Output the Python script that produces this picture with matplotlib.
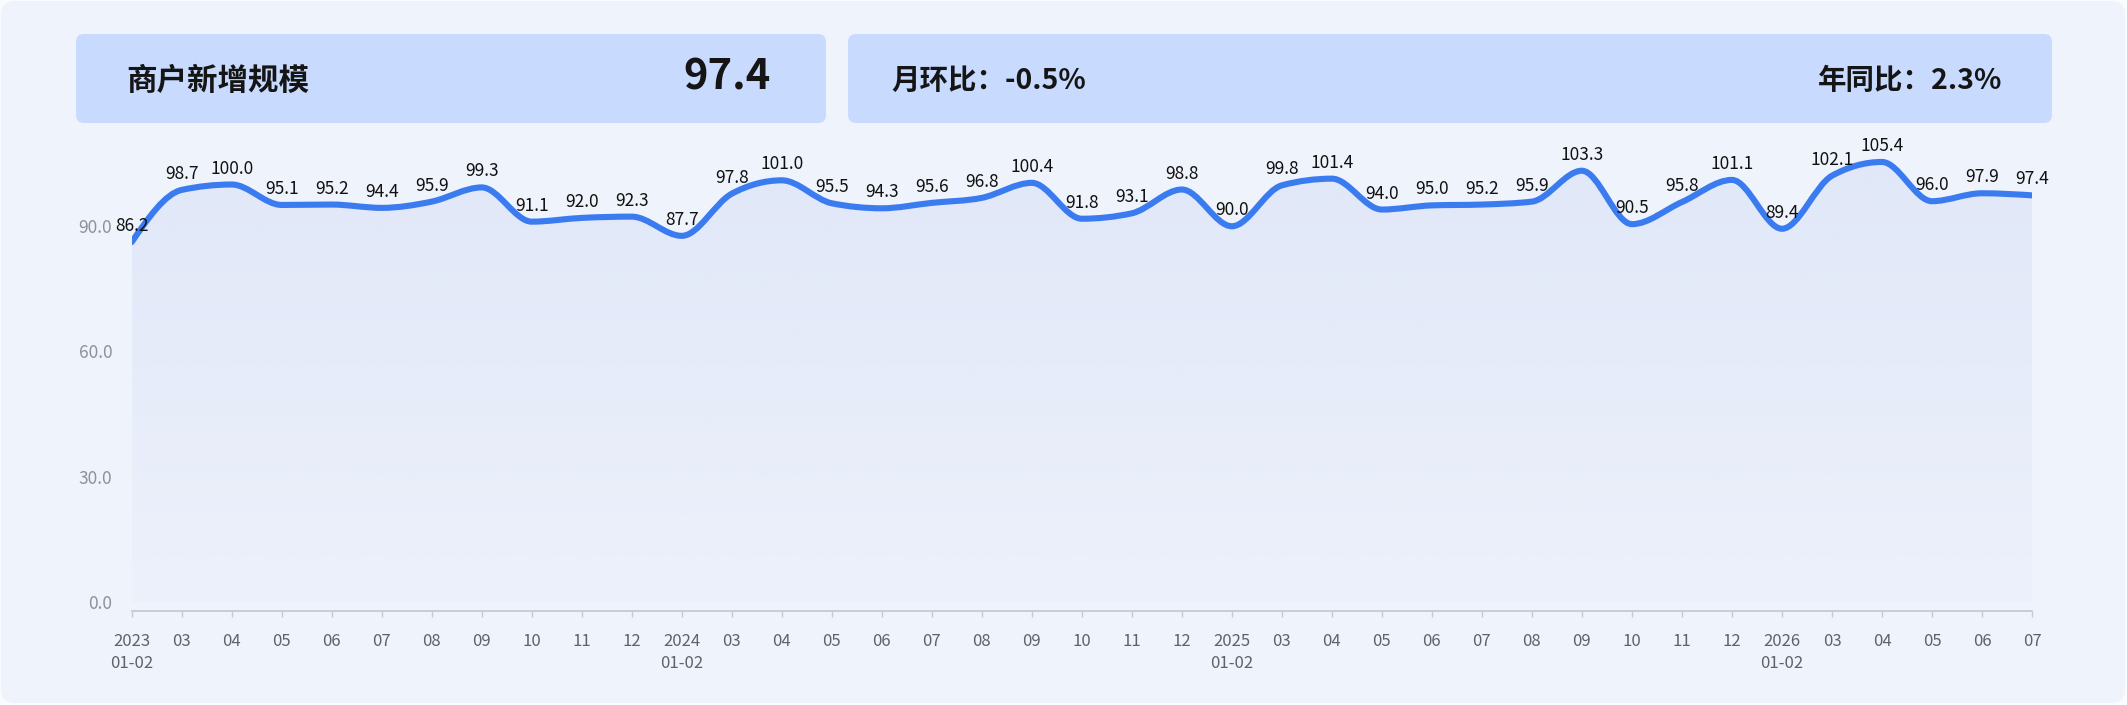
import numpy as np
import matplotlib
matplotlib.use('Agg')
import matplotlib.pyplot as plt
from matplotlib.path import Path
from matplotlib.patches import PathPatch, FancyBboxPatch
import matplotlib.colors as mcolors

plt.rcParams['font.family'] = ['Noto Sans CJK SC', 'DejaVu Sans']

# chart data
periods = ['2023\n01-02', '03', '04', '05', '06', '07', '08', '09', '10', '11', '12',
           '2024\n01-02', '03', '04', '05', '06', '07', '08', '09', '10', '11', '12',
           '2025\n01-02', '03', '04', '05', '06', '07', '08', '09', '10', '11', '12',
           '2026\n01-02', '03', '04', '05', '06', '07']
values = [86.2, 98.7, 100.0, 95.1, 95.2, 94.4, 95.9, 99.3, 91.1, 92.0, 92.3,
          87.7, 97.8, 101.0, 95.5, 94.3, 95.6, 96.8, 100.4, 91.8, 93.1, 98.8,
          90.0, 99.8, 101.4, 94.0, 95.0, 95.2, 95.9, 103.3, 90.5, 95.8, 101.1,
          89.4, 102.1, 105.4, 96.0, 97.9, 97.4]
y_ticks = [0, 30, 60, 90]

title = '商户新增规模'
latest = '97.4'
mom_text = '月环比：-0.5%'
yoy_text = '年同比：2.3%'

W, H = 2127, 705
LINE = '#3b7bf0'


def monotone_tangents(x, y):
    n = len(x)
    h = np.diff(x)
    s = np.diff(y) / h
    m = np.zeros(n)
    for i in range(1, n - 1):
        p = (s[i - 1] * h[i] + s[i] * h[i - 1]) / (h[i - 1] + h[i])
        m[i] = (np.sign(s[i - 1]) + np.sign(s[i])) * min(abs(s[i - 1]), abs(s[i]), 0.5 * abs(p))
    m[0] = (3 * s[0] - m[1]) / 2
    m[-1] = (3 * s[-1] - m[-2]) / 2
    return m


def smooth_path(x, y, close_to=None):
    # cubic bezier segments through the data points (monotone tangents)
    m = monotone_tangents(x, y)
    verts = [(x[0], y[0])]
    codes = [Path.MOVETO]
    for i in range(len(x) - 1):
        dx = (x[i + 1] - x[i]) / 3
        verts += [(x[i] + dx, y[i] + m[i] * dx),
                  (x[i + 1] - dx, y[i + 1] - m[i + 1] * dx),
                  (x[i + 1], y[i + 1])]
        codes += [Path.CURVE4] * 3
    if close_to is not None:
        verts += [(x[-1], close_to), (x[0], close_to), (x[0], y[0])]
        codes += [Path.LINETO, Path.LINETO, Path.CLOSEPOLY]
    return Path(verts, codes)


fig = plt.figure(figsize=(W / 100, H / 100), dpi=100)
fig.patch.set_facecolor('#fafbfe')

# background layer in pixel coordinates
bg = fig.add_axes([0, 0, 1, 1])
bg.set_xlim(0, W)
bg.set_ylim(H, 0)
bg.axis('off')
bg.add_patch(FancyBboxPatch((1, 1), W - 3, H - 3, boxstyle='round,pad=0,rounding_size=14',
                            facecolor='#eff3fb', edgecolor='none'))
bg.add_patch(FancyBboxPatch((76, 34), 750, 89, boxstyle='round,pad=0,rounding_size=8',
                            facecolor='#c9daff', edgecolor='none'))
bg.add_patch(FancyBboxPatch((848, 34), 1204, 89, boxstyle='round,pad=0,rounding_size=8',
                            facecolor='#c9daff', edgecolor='none'))
bg.text(126, 81, title, fontsize=22, fontweight='bold', color='#151515', ha='left', va='center')
bg.text(771, 78, latest, fontsize=30, fontweight='bold', color='#151515', ha='right', va='center')
bg.text(891, 81, mom_text, fontsize=20.5, fontweight='bold', color='#151515', ha='left', va='center')
bg.text(2002, 81, yoy_text, fontsize=20.5, fontweight='bold', color='#151515', ha='right', va='center')

# main chart
x0, x1 = 131.7, 2032
ybot, ytop = 611, 130
ax = fig.add_axes([x0 / W, (H - ybot) / H, (x1 - x0) / W, (ybot - ytop) / H])
ax.set_facecolor('none')
px_per_unit = 4.175
zero_px = 602
ax.set_xlim(0, len(values) - 1)
ax.set_ylim(-(ybot - zero_px) / px_per_unit, (zero_px - ytop) / px_per_unit)

xs = np.arange(len(values), dtype=float)
ys = np.array(values, dtype=float)

# gradient area under the curve
area = PathPatch(smooth_path(xs, ys, close_to=0), facecolor='none', edgecolor='none')
ax.add_patch(area)
base = mcolors.to_rgb('#d5def6')
grad = np.zeros((256, 1, 4))
grad[:, 0, :3] = base
grad[:, 0, 3] = np.linspace(0.55, 0.1, 256)
img = ax.imshow(grad, extent=[0, len(values) - 1, 0, max(values) + 2], origin='upper',
                aspect='auto', zorder=1, interpolation='bilinear')
img.set_clip_path(area)

line = PathPatch(smooth_path(xs, ys), facecolor='none', edgecolor=LINE, lw=4.4,
                 capstyle='round', joinstyle='round', zorder=3)
ax.add_patch(line)

for i, v in enumerate(values):
    ax.annotate(f'{v:.1f}', (i, v), xytext=(0, 5), textcoords='offset points',
                ha='center', va='bottom', fontsize=12.5, color='#111111', zorder=4,
                annotation_clip=False)

for side in ('left', 'right', 'top'):
    ax.spines[side].set_visible(False)
ax.spines['bottom'].set_color('#c6cad3')
ax.spines['bottom'].set_linewidth(1.3)

ax.set_xticks(xs)
ax.set_xticklabels(periods, linespacing=1.35)
ax.tick_params(axis='x', length=4, width=1, color='#c6cad3', pad=12,
               labelsize=12, labelcolor='#5f6268')
ax.set_yticks(y_ticks)
ax.set_yticklabels([f'{t:.1f}' for t in y_ticks])
ax.tick_params(axis='y', length=0, pad=14, labelsize=12.5, labelcolor='#8e9196')

fig.savefig('out.png', dpi=100, facecolor=fig.get_facecolor())
